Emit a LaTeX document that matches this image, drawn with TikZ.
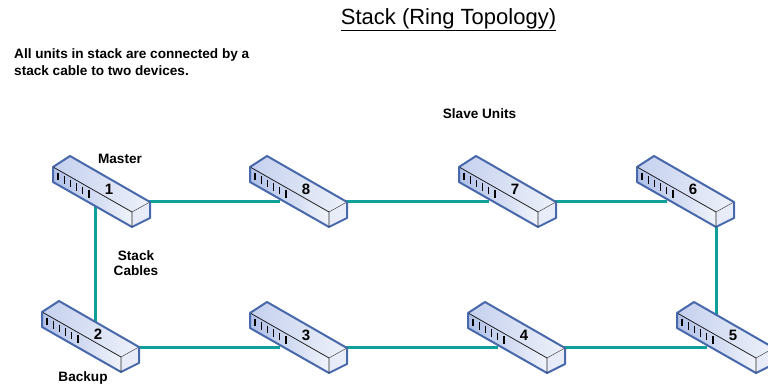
\documentclass[tikz,border=0pt]{standalone}
\usepackage{fontspec}
\setmainfont{Liberation Sans}
\usetikzlibrary{backgrounds}
\definecolor{cablecolor}{RGB}{16,160,155}
\definecolor{caseblue}{RGB}{72,104,172}
\definecolor{topblue}{RGB}{196,208,238}
\definecolor{sideblue}{RGB}{176,192,232}
\tikzset{
  cable/.style={draw=cablecolor,line width=3pt},
  lbl/.style={font=\bfseries\fontsize{13.6}{16}\selectfont,inner sep=0pt},
  switchunit/.pic={
    % Faces
    \fill[left color=topblue,right color=white!70!topblue] (0,0) -- (17,-11) -- (97,35) -- (79,45) -- cycle;
    \fill[left color=sideblue,right color=white!75!topblue] (0,0) -- (79,45) -- (79,60) -- (0,15) -- cycle;
    \fill[white!60!topblue] (79,45) -- (97,35) -- (97,51) -- (79,60) -- cycle;
    % Outline
    \draw[caseblue,line width=2pt,line join=round] (0,0) -- (17,-11) -- (97,35) -- (97,51) -- (79,60) -- (0,15) -- cycle;
    \draw[black!85,line width=0.8pt] (1,0.5) -- (79,45) -- (79,60);
    \draw[black!70,line width=0.5pt] (79,45) -- (96,35.5);
    % Ports
    \foreach \p in {0,1,2,3,4,5}
      \draw[black,line width=1.3pt] (5+6.2*\p,5.5+3.5*\p) -- ++(0,7.5);
    \node[lbl,font=\bfseries\fontsize{15}{18}\selectfont] (-num) at (56,22) {#1};
    % Cable ends
    \coordinate (-east) at (90,34);
    \coordinate (-west) at (30,34);
    \coordinate (-base) at (42,40);
    \coordinate (-front) at (79,55);
    \coordinate (-top) at (40,15);
  }
}
\begin{document}
\begin{tikzpicture}[x=1pt,y=-1pt]
\useasboundingbox (0,0) rectangle (768,385);

% Units
\pic (u1) at (53,167) {switchunit=1};
\pic (u8) at (250,167) {switchunit=8};
\pic (u7) at (459,167) {switchunit=7};
\pic (u6) at (637,167) {switchunit=6};
\pic (u2) at (42,312) {switchunit=2};
\pic (u3) at (250,313) {switchunit=3};
\pic (u4) at (468,313) {switchunit=4};
\pic (u5) at (677,313) {switchunit=5};

% Cables
\begin{scope}[on background layer]
\draw[cable] (u1-east) -- (u8-west);
\draw[cable] (u8-east) -- (u7-west);
\draw[cable] (u7-east) -- (u6-west);
\draw[cable] (u6-front) -- (u6-front |- u5-top);
\draw[cable] (u5-west) -- (u4-east);
\draw[cable] (u4-west) -- (u3-east);
\draw[cable] (u3-west) -- (u3-west -| u2-east);
\draw[cable] (u2-top -| u1-base) -- (u1-base);
\end{scope}

% Labels
\node[inner sep=0pt,font=\fontsize{22}{26}\selectfont] (title) at (448.5,20) {\underline{Stack (Ring Topology)}};
\node[lbl,anchor=west] (note1) at (14,55) {All units in stack are connected by a};
\node[lbl,anchor=west] (note2) at (14,71) {stack cable to two devices.};
\node[lbl] (slave) at (479.5,114) {Slave Units};
\node[lbl] (master) at (120,159) {Master};
\node[lbl] (stack) at (136,256) {Stack};
\node[lbl] (cables) at (136,271) {Cables};
\node[lbl] (backup) at (83,378) {Backup};
\end{tikzpicture}
\end{document}
